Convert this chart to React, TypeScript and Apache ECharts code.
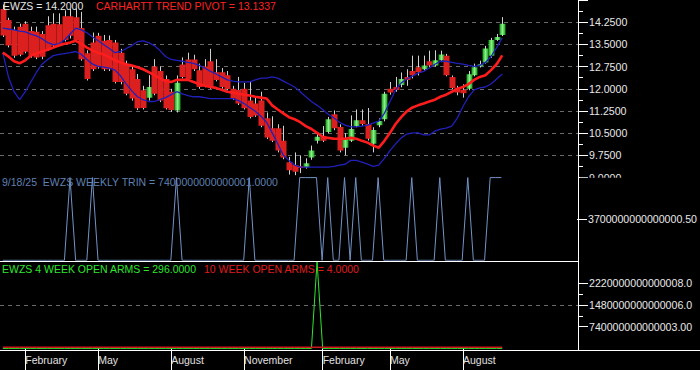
import React, { useEffect, useRef } from "react";
import * as echarts from "echarts";

// ---------- data (weekly bars, week ending Friday) ----------
const FIRST_WEEK_UTC = Date.UTC(2024, 0, 5);
const TOTAL_WEEKS = 103; // 90 weeks of data + empty weeks up to the price axis
const MONTH_NAMES = ["January", "February", "March", "April", "May", "June", "July", "August", "September", "October", "November", "December"];
const LABELLED_MONTHS = [1, 4, 7, 10];

const opens = [
  14.70, 14.32, 13.99, 14.10, 14.20, 13.95, 13.93, 13.85, 14.15, 14.20,
  14.18, 14.45, 14.45, 14.42, 14.05, 13.20, 13.56, 13.79, 13.62, 13.65,
  13.56, 13.22, 12.82, 12.66, 12.33, 11.95, 11.70, 12.75, 12.60, 12.33,
  11.90, 11.27, 12.82, 12.99, 12.99, 12.63, 12.75, 12.93, 12.56, 12.56,
  12.46, 12.00, 11.96, 12.00, 11.60, 11.50, 11.60, 11.00, 10.67, 10.67,
  10.24, 9.52, 9.42, 9.38, 9.35, 9.68, 10.24, 10.38, 10.54, 11.14,
  10.71, 10.01, 10.24, 10.74, 10.94, 10.81, 10.14, 10.77, 10.97, 12.00,
  12.06, 12.13, 12.40, 12.60, 12.73, 12.66, 12.93, 12.79, 12.96, 13.12,
  12.40, 12.03, 11.97, 12.00, 12.46, 12.76, 12.89, 13.12, 13.65, 13.82,
];
const closes = [
  13.80, 13.46, 13.12, 13.15, 13.25, 13.12, 13.06, 13.08, 13.33, 13.45,
  13.50, 13.65, 13.79, 13.65, 13.00, 12.33, 12.66, 12.73, 12.66, 12.66,
  12.23, 12.23, 11.83, 11.67, 11.34, 11.35, 12.06, 11.83, 11.60, 11.34,
  11.28, 12.20, 12.40, 12.33, 12.66, 12.06, 12.10, 12.06, 12.30, 12.06,
  11.99, 11.67, 11.50, 11.34, 11.05, 11.10, 10.75, 10.35, 10.24, 9.91,
  9.68, 9.25, 9.20, 9.32, 9.48, 9.91, 10.38, 10.24, 10.97, 10.67,
  9.91, 10.31, 10.64, 10.94, 10.81, 10.31, 10.61, 10.91, 11.83, 11.87,
  11.96, 12.33, 12.30, 12.46, 12.56, 12.79, 12.79, 12.96, 13.16, 12.46,
  12.03, 11.87, 11.85, 12.49, 12.73, 12.83, 13.36, 13.65, 13.75, 14.20,
];
const lows = [
  13.75, 13.40, 13.05, 13.10, 13.20, 13.05, 13.00, 13.00, 13.28, 13.40,
  13.45, 13.60, 13.70, 13.60, 12.95, 12.28, 12.60, 12.68, 12.60, 12.60,
  12.18, 12.15, 11.78, 11.60, 11.28, 11.30, 11.60, 11.78, 11.55, 11.30,
  11.22, 11.20, 12.35, 12.28, 12.60, 12.00, 12.05, 12.00, 12.25, 12.00,
  11.95, 11.62, 11.45, 11.30, 11.00, 11.05, 10.70, 10.30, 10.20, 9.85,
  9.62, 9.10, 9.08, 9.15, 9.30, 9.60, 10.15, 10.20, 10.50, 10.60,
  9.85, 9.75, 10.20, 10.70, 10.75, 10.25, 9.85, 10.70, 10.90, 11.80,
  11.90, 12.05, 12.10, 12.35, 12.45, 12.60, 12.72, 12.75, 12.90, 12.42,
  11.98, 11.78, 11.70, 11.95, 12.42, 12.72, 12.85, 13.05, 13.62, 13.78,
];
const highs = [
  14.85, 14.40, 14.10, 14.20, 14.28, 14.10, 14.10, 13.95, 14.45, 14.55,
  14.55, 14.65, 14.70, 14.72, 14.60, 13.30, 13.90, 13.89, 13.82, 13.80,
  13.65, 13.35, 12.95, 12.80, 12.50, 12.10, 12.46, 13.00, 12.75, 12.45,
  12.00, 12.45, 13.06, 13.22, 13.15, 12.85, 13.00, 13.35, 13.00, 12.70,
  12.60, 12.10, 12.40, 12.20, 12.23, 11.75, 11.90, 11.20, 11.07, 10.80,
  10.75, 9.70, 9.85, 9.75, 9.65, 10.08, 10.50, 10.74, 11.05, 11.27,
  10.80, 10.50, 11.10, 11.30, 11.30, 11.35, 10.70, 11.00, 11.90, 12.23,
  12.40, 12.55, 12.66, 13.12, 13.12, 13.12, 13.29, 13.30, 13.29, 13.18,
  12.45, 12.10, 12.15, 12.60, 12.85, 12.95, 13.45, 13.72, 13.85, 14.42,
];
const trendPivot = [
  13.22, 13.09, 12.93, 12.86, 12.96, 13.12, 13.19, 13.26, 13.32, 13.39,
  13.46, 13.52, 13.56, 13.62, 13.52, 13.39, 13.29, 13.22, 13.16, 13.06,
  12.96, 12.89, 12.83, 12.79, 12.73, 12.66, 12.56, 12.46, 12.36, 12.26,
  12.23, 12.30, 12.30, 12.30, 12.23, 12.16, 12.10, 12.06, 12.03, 11.97,
  11.90, 11.87, 11.83, 11.80, 11.77, 11.73, 11.70, 11.67, 11.44, 11.30,
  11.17, 11.04, 10.97, 10.87, 10.74, 10.64, 10.51, 10.38, 10.34, 10.31,
  10.31, 10.31, 10.34, 10.31, 10.24, 10.18, 10.08, 10.01, 10.24, 10.51,
  10.81, 11.04, 11.24, 11.37, 11.44, 11.50, 11.57, 11.63, 11.73, 11.80,
  11.90, 12.00, 12.06, 12.16, 12.30, 12.40, 12.46, 12.63, 12.83, 13.13,
];
const upperBand = [
  14.05, 14.02, 13.99, 13.95, 13.92, 13.85, 13.79, 13.69, 13.56, 13.49,
  13.52, 13.65, 13.85, 14.05, 13.99, 13.89, 13.75, 13.62, 13.49, 13.36,
  13.22, 13.26, 13.36, 13.46, 13.59, 13.62, 13.56, 13.46, 13.29, 13.09,
  12.99, 12.96, 12.93, 12.89, 12.86, 12.79, 12.70, 12.59, 12.50, 12.40,
  12.30, 12.26, 12.23, 12.23, 12.23, 12.30, 12.36, 12.36, 12.40, 12.36,
  12.26, 12.16, 12.06, 11.90, 11.73, 11.57, 11.44, 11.30, 11.14, 11.01,
  10.87, 10.77, 10.71, 10.71, 10.74, 10.77, 10.84, 10.91, 11.17, 11.57,
  11.96, 12.20, 12.33, 12.43, 12.53, 12.59, 12.70, 12.83, 12.93, 12.93,
  12.89, 12.86, 12.83, 12.79, 12.76, 12.79, 12.89, 13.09, 13.39, 13.72,
];
const lowerBand = [
  13.22, 12.40, 11.90, 11.63, 11.90, 12.23, 12.56, 12.83, 12.99, 13.12,
  13.16, 13.19, 13.22, 13.26, 13.16, 12.99, 12.83, 12.76, 12.73, 12.70,
  12.63, 12.43, 12.16, 11.93, 11.73, 11.63, 11.57, 11.57, 11.63, 11.70,
  11.80, 11.90, 11.83, 11.77, 11.73, 11.73, 11.70, 11.67, 11.67, 11.67,
  11.67, 11.67, 11.60, 11.50, 11.37, 11.24, 11.07, 10.87, 10.51, 10.14,
  9.75, 9.58, 9.42, 9.35, 9.35, 9.35, 9.35, 9.35, 9.35, 9.38,
  9.42, 9.45, 9.58, 9.58, 9.52, 9.45, 9.38, 9.42, 9.65, 9.91,
  10.14, 10.34, 10.47, 10.51, 10.51, 10.44, 10.44, 10.57, 10.64, 10.67,
  10.74, 11.01, 11.40, 11.73, 11.96, 12.03, 12.06, 12.16, 12.33, 12.50,
];
const TRIN_TOP = 7400000000000001;
const weeklyTrin = [
  0, 0, 0, 0, 0, 0, 0, 0, 0, 0,
  0, 0, TRIN_TOP, 0, 0, 0, TRIN_TOP, 0, 0, 0,
  0, 0, 0, 0, 0, 0, 0, 0, 0, 0,
  0, TRIN_TOP, 0, 0, 0, 0, 0, 0, 0, 0,
  0, 0, 0, 0, TRIN_TOP, 0, 0, 0, 0, 0,
  0, 0, 0, TRIN_TOP, TRIN_TOP, TRIN_TOP, TRIN_TOP, 0, TRIN_TOP, 0,
  0, TRIN_TOP, 0, TRIN_TOP, 0, 0, 0, TRIN_TOP, 0, 0,
  0, 0, 0, TRIN_TOP, 0, 0, 0, 0, TRIN_TOP, 0,
  0, 0, 0, TRIN_TOP, 0, 0, 0, TRIN_TOP, TRIN_TOP, TRIN_TOP,
];
const openArms4 = [
  0, 0, 0, 0, 0, 0, 0, 0, 0, 0,
  0, 0, 0, 0, 0, 0, 0, 0, 0, 0,
  0, 0, 0, 0, 0, 0, 0, 0, 0, 0,
  0, 0, 0, 0, 0, 0, 0, 0, 0, 0,
  0, 0, 0, 0, 0, 0, 0, 0, 0, 0,
  0, 0, 0, 0, 0, 0, 296, 0, 0, 0,
  0, 0, 0, 0, 0, 0, 0, 0, 0, 0,
  0, 0, 0, 0, 0, 0, 0, 0, 0, 0,
  0, 0, 0, 0, 0, 0, 0, 0, 0, 0,
];
const openArms10 = [
  4, 4, 4, 4, 4, 4, 4, 4, 4, 4,
  4, 4, 4, 4, 4, 4, 4, 4, 4, 4,
  4, 4, 4, 4, 4, 4, 4, 4, 4, 4,
  4, 4, 4, 4, 4, 4, 4, 4, 4, 4,
  4, 4, 4, 4, 4, 4, 4, 4, 4, 4,
  4, 4, 4, 4, 4, 4, 4, 4, 4, 4,
  4, 4, 4, 4, 4, 4, 4, 4, 4, 4,
  4, 4, 4, 4, 4, 4, 4, 4, 4, 4,
  4, 4, 4, 4, 4, 4, 4, 4, 4, 4,
];

const PRICE_MIN = 9;
const PRICE_MAX = 15;
const PRICE_STEP = 0.75;
const TRIN_MID_LABEL = "3700000000000000.50";
const ARMS_MAX = 296;
const ARMS_STEP = 74;
const ARMS_TICK_LABELS: Record<number, string> = {
  74: "740000000000003.00",
  148: "1480000000000006.0",
  222: "2220000000000008.0",
};

const HEADER_PRICE = "EWZS = 14.2000";
const HEADER_PIVOT = "CARHARTT TREND PIVOT = 13.1337";
const HEADER_TRIN = "9/18/25  EWZS WEEKLY TRIN = 7400000000000001.0000";
const HEADER_ARMS4 = "EWZS 4 WEEK OPEN ARMS = 296.0000";
const HEADER_ARMS10 = "10 WEEK OPEN ARMS = 4.0000";

// ---------- derived ----------
const weeks: string[] = [];
for (let i = 0; i < TOTAL_WEEKS; i++) {
  weeks.push(new Date(FIRST_WEEK_UTC + i * 7 * 86400000).toISOString().slice(0, 10));
}
const monthOf = (s: string) => new Date(s + "T00:00:00Z").getUTCMonth();
const isMonthStart = (i: number) => {
  if (i <= 0 || i >= opens.length) return false;
  const m = monthOf(weeks[i]);
  return m !== monthOf(weeks[i - 1]) && LABELLED_MONTHS.includes(m);
};
const candles = opens.map((o, i) => [i, o, closes[i], lows[i], highs[i]]);

const FONT = '"Liberation Sans", Arial, sans-serif';
const GRID_LEFT = -3;
const GRID_RIGHT = 122;
const AXIS_TEXT = "#e8e8e8";
const DASH = { color: "#6a6a6a", type: [4, 4] as number[], width: 1 };
const WICK = "#d2d2d2";
const DOWN = "#dc2020";
const BAND = "#2020bb";

export default function App() {
  const ref = useRef<HTMLDivElement>(null);
  useEffect(() => {
    if (!ref.current) return;
    const chart = echarts.init(ref.current, undefined, { renderer: "svg" });
    const upFill = new echarts.graphic.LinearGradient(0, 0, 1, 0, [
      { offset: 0, color: "#1b9a1b" },
      { offset: 0.5, color: "#86f286" },
      { offset: 1, color: "#1b9a1b" },
    ]);
    const renderCandle = (_params: any, api: any) => {
      const i = api.value(0);
      const o = api.value(1);
      const c = api.value(2);
      const pO = api.coord([i, o]);
      const pC = api.coord([i, c]);
      const pL = api.coord([i, api.value(3)]);
      const pH = api.coord([i, api.value(4)]);
      const x = Math.round(pO[0]);
      const top = Math.min(pO[1], pC[1]);
      const h = Math.max(Math.abs(pO[1] - pC[1]), 1);
      return {
        type: "group",
        children: [
          { type: "line", shape: { x1: x + 0.5, y1: pH[1], x2: x + 0.5, y2: pL[1] }, style: { stroke: WICK, lineWidth: 1 } },
          { type: "rect", shape: { x: x - 2.5, y: top, width: 6, height: h }, style: { fill: c >= o ? upFill : DOWN } },
        ],
      };
    };
    const xBase = {
      type: "category" as const,
      data: weeks,
      boundaryGap: true,
      axisLine: { show: false },
      axisTick: { show: false },
      axisLabel: { show: false },
      splitLine: { show: false },
    };
    const text = (x: number, y: number, t: string, fill: string) => ({
      type: "text",
      x,
      y,
      z: 110,
      silent: true,
      style: { text: t, fill, fontSize: 10.5, fontFamily: FONT, align: "left", verticalAlign: "middle" },
    });
    const lineSeries = (name: string, data: number[], axis: number, color: string, width: number) => ({
      name,
      type: "line",
      xAxisIndex: axis,
      yAxisIndex: axis,
      data,
      showSymbol: false,
      symbol: "none",
      silent: true,
      z: 3,
      lineStyle: { color, width },
    });
    const option: any = {
      animation: false,
      backgroundColor: "#000000",
      grid: [
        { left: GRID_LEFT, right: GRID_RIGHT, top: -3.65, height: 181.2 },
        { left: GRID_LEFT, right: GRID_RIGHT, top: 177.6, height: 82.7 },
        { left: GRID_LEFT, right: GRID_RIGHT, top: 261.6, height: 86.8 },
      ],
      xAxis: [
        { ...xBase, gridIndex: 0 },
        { ...xBase, gridIndex: 1 },
        {
          ...xBase,
          gridIndex: 2,
          axisTick: {
            show: true,
            alignWithLabel: true,
            interval: (i: number) => isMonthStart(i),
            length: 22,
            lineStyle: { color: "#ffffff", width: 1 },
          },
          axisLabel: {
            show: true,
            interval: (i: number) => isMonthStart(i),
            formatter: (v: string) => MONTH_NAMES[monthOf(v)],
            align: "left",
            padding: [0, 0, 0, 0],
            margin: 6,
            color: "#e0e0e0",
            fontSize: 10.5,
            fontFamily: FONT,
          },
        },
      ],
      yAxis: [
        {
          gridIndex: 0,
          type: "value",
          position: "right",
          min: PRICE_MIN,
          max: PRICE_MAX,
          interval: PRICE_STEP,
          axisLine: { show: false },
          axisTick: { show: true, length: 10, lineStyle: { color: "#ffffff" } },
          minorTick: { show: true, splitNumber: 2, length: 5, lineStyle: { color: "#ffffff" } },
          axisLabel: {
            color: AXIS_TEXT,
            fontSize: 10.6,
            fontFamily: FONT,
            margin: 11,
            showMaxLabel: false,
            formatter: (v: number) => v.toFixed(4),
          },
          splitLine: { show: true, showMinLine: false, showMaxLine: false, lineStyle: DASH },
        },
        {
          gridIndex: 1,
          type: "value",
          position: "right",
          min: 0,
          max: TRIN_TOP,
          interval: TRIN_TOP / 2,
          axisLine: { show: false },
          axisTick: { show: true, length: 10, customValues: [TRIN_TOP / 2], lineStyle: { color: "#ffffff" } },
          axisLabel: {
            color: AXIS_TEXT,
            fontSize: 10.6,
            fontFamily: FONT,
            margin: 11,
            customValues: [TRIN_TOP / 2],
            formatter: (v: number) => (v > 0 && v < TRIN_TOP ? TRIN_MID_LABEL : ""),
          },
          splitLine: { show: true, showMinLine: false, showMaxLine: false, lineStyle: DASH },
        },
        {
          gridIndex: 2,
          type: "value",
          position: "right",
          min: 0,
          max: ARMS_MAX,
          interval: ARMS_STEP,
          axisLine: { show: false },
          axisTick: { show: true, length: 10, customValues: [74, 148, 222], lineStyle: { color: "#ffffff" } },
          axisLabel: {
            color: AXIS_TEXT,
            fontSize: 10.6,
            fontFamily: FONT,
            margin: 11,
            customValues: [74, 148, 222],
            formatter: (v: number) => ARMS_TICK_LABELS[Math.round(v)] ?? "",
          },
          splitLine: { show: true, showMinLine: false, showMaxLine: false, lineStyle: DASH },
        },
        {
          gridIndex: 2,
          type: "value",
          position: "right",
          min: 0,
          max: ARMS_MAX,
          interval: ARMS_STEP,
          axisLine: { show: false },
          axisTick: { show: true, length: 5, customValues: [111, 185], lineStyle: { color: "#ffffff" } },
          axisLabel: { show: false },
          splitLine: { show: false },
        },
      ],
      series: [
        {
          name: "EWZS",
          type: "custom",
          xAxisIndex: 0,
          yAxisIndex: 0,
          data: candles,
          encode: { x: 0, y: [1, 2, 3, 4] },
          renderItem: renderCandle,
          clip: true,
          silent: true,
          z: 2,
        },
        lineSeries("upper", upperBand, 0, BAND, 1.3),
        lineSeries("lower", lowerBand, 0, BAND, 1.3),
        lineSeries("pivot", trendPivot, 0, "#ff1c1c", 2.6),
        lineSeries("trin", weeklyTrin, 1, "#7393c6", 1),
        lineSeries("arms4", openArms4, 2, "#2ee62e", 1),
        lineSeries("arms10", openArms10, 2, "#cc1818", 1.6),
      ],
      graphic: [
        { type: "rect", z: 100, silent: true, shape: { x: 580, y: 177.8, width: 120, height: 14 }, style: { fill: "#000000" } },
        { type: "line", z: 101, silent: true, shape: { x1: 578.5, y1: 0, x2: 578.5, y2: 350 }, style: { stroke: "#ffffff", lineWidth: 1 } },
        { type: "line", z: 101, silent: true, shape: { x1: 0, y1: 261.5, x2: 578, y2: 261.5 }, style: { stroke: "#ffffff", lineWidth: 1 } },
        { type: "line", z: 101, silent: true, shape: { x1: 0, y1: 350.5, x2: 700, y2: 350.5 }, style: { stroke: "#ffffff", lineWidth: 1 } },
        text(3, 6, HEADER_PRICE, "#e6e6e6"),
        text(96, 6, HEADER_PIVOT, "#ff2222"),
        text(2, 182, HEADER_TRIN, "#5f80b3"),
        text(2, 268.5, HEADER_ARMS4, "#2ee62e"),
        text(204, 268.5, HEADER_ARMS10, "#e01c1c"),
      ],
    };
    chart.setOption(option);
    return () => chart.dispose();
  }, []);
  return (
    <div style={{ position: "fixed", left: 0, top: 0, width: 700, height: 370, background: "#000" }}>
      <div ref={ref} style={{ width: 700, height: 370 }} />
    </div>
  );
}
